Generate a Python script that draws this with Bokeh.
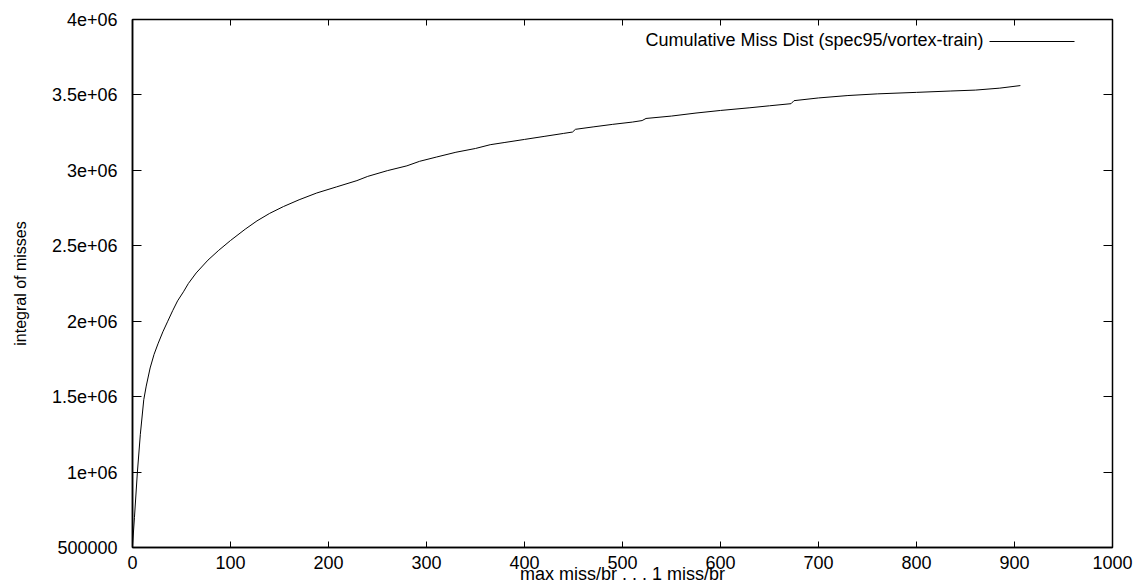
from bokeh.plotting import figure
from bokeh.models import Range1d, LinearAxis, Label, PolyAnnotation, FixedTicker
from bokeh.embed import file_html
from bokeh.resources import INLINE

# Cumulative miss distribution, ranked from most misses per branch downward
miss_rank = [0, 2, 5, 8, 11.5, 14, 18, 22, 26, 31, 36, 41, 46, 52, 57, 65, 77, 88,
             100, 115, 127, 140, 154, 170, 188, 208, 229, 240, 260, 280, 293, 310,
             330, 350, 365, 380, 400, 420, 440, 449, 452, 470, 490, 510, 520, 524,
             550, 575, 600, 630, 650, 672, 675, 700, 730, 760, 800, 835, 860, 885, 906]
miss_total = [510000, 700000, 1000000, 1250000, 1480000, 1570000, 1690000, 1780000,
              1850000, 1930000, 2000000, 2070000, 2135000, 2195000, 2250000, 2320000,
              2405000, 2470000, 2535000, 2610000, 2665000, 2715000, 2760000, 2805000,
              2850000, 2890000, 2932000, 2960000, 2998000, 3030000, 3060000, 3088000,
              3120000, 3145000, 3170000, 3185000, 3205000, 3225000, 3245000, 3254000,
              3272000, 3288000, 3305000, 3320000, 3330000, 3344000, 3360000, 3380000,
              3397000, 3415000, 3428000, 3442000, 3462000, 3480000, 3496000, 3507000,
              3517000, 3526000, 3532000, 3545000, 3562000]

x_ticks = [0, 100, 200, 300, 400, 500, 600, 700, 800, 900, 1000]
x_tick_labels = ["0", "100", "200", "300", "400", "500", "600", "700", "800", "900", "1000"]
y_ticks = [500000, 1000000, 1500000, 2000000, 2500000, 3000000, 3500000, 4000000]
y_tick_labels = ["500000", "1e+06", "1.5e+06", "2e+06", "2.5e+06", "3e+06", "3.5e+06", "4e+06"]

series_name = "Cumulative Miss Dist (spec95/vortex-train)"
x_title = "max miss/br . . . 1 miss/br"
y_title = "integral of misses"

FONT = "Liberation Sans"
SIZE = "18px"

p = figure(width=1139, height=588, output_backend="svg", toolbar_location=None,
           x_range=Range1d(0, 1000), y_range=Range1d(500000, 4000000),
           min_border_left=132, min_border_right=27, min_border_top=19,
           min_border_bottom=41)
p.background_fill_color = "white"
p.border_fill_color = "white"
p.outline_line_color = "black"
p.outline_line_width = 1.5
p.grid.visible = False

p.line(miss_rank, miss_total, line_color="black", line_width=1)

# bottom / left axes with labels
p.xaxis.ticker = FixedTicker(ticks=x_ticks)
p.xaxis.major_label_overrides = dict(zip(x_ticks, x_tick_labels))
p.yaxis.ticker = FixedTicker(ticks=y_ticks)
p.yaxis.major_label_overrides = dict(zip(y_ticks, y_tick_labels))

for ax in (p.xaxis[0], p.yaxis[0]):
    ax.axis_line_color = "black"
    ax.axis_line_width = 1.5
    ax.major_tick_out = 0
    ax.minor_tick_line_color = None
    ax.major_tick_line_color = "black"
    ax.major_tick_line_width = 1
    ax.major_label_text_font = FONT
    ax.major_label_text_font_size = SIZE
    ax.major_label_text_color = "black"
    ax.axis_label_text_font = FONT
    ax.axis_label_text_font_style = "normal"
    ax.axis_label_text_color = "black"

p.xaxis.major_tick_in = 6
p.xaxis.major_label_standoff = 8
p.xaxis.axis_label = x_title
p.xaxis.axis_label_text_font_size = SIZE
p.xaxis.axis_label_standoff = -8

p.yaxis.major_tick_in = 9
p.yaxis.major_label_standoff = 15
p.yaxis.axis_label = y_title
p.yaxis.axis_label_text_font_size = "16px"
p.yaxis.axis_label_standoff = 20

# mirrored tick marks on the top and right edges (labels not drawn)
top_axis = LinearAxis(ticker=FixedTicker(ticks=x_ticks), major_tick_in=6, major_tick_out=0,
                      minor_tick_line_color=None, axis_line_color=None,
                      major_label_text_font_size="1px", major_label_text_color=None,
                      major_label_standoff=0)
right_axis = LinearAxis(ticker=FixedTicker(ticks=y_ticks), major_tick_in=9, major_tick_out=0,
                        minor_tick_line_color=None, axis_line_color=None,
                        major_label_text_font_size="1px", major_label_text_color=None,
                        major_label_standoff=0)
p.add_layout(top_axis, "above")
p.add_layout(right_axis, "right")

# key: title on the left, line sample on the right
p.add_layout(Label(x=851, y=508, x_units="screen", y_units="screen", text=series_name,
                   text_font=FONT, text_font_size=SIZE, text_align="right",
                   text_baseline="middle", text_color="black"))
p.add_layout(PolyAnnotation(xs=[857, 942], ys=[506, 506], xs_units="screen",
                            ys_units="screen", fill_alpha=0, line_color="black",
                            line_alpha=1.0, line_width=1))

open("out.html", "w").write(file_html(p, INLINE))
